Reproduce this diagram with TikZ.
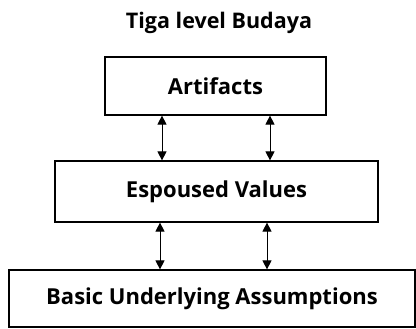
\documentclass[tikz,border=0pt]{standalone}
\usepackage{fontspec}
\setmainfont{Open Sans}
\usetikzlibrary{arrows.meta}
\begin{document}
\begin{tikzpicture}[x=1pt,y=-1pt,
  box/.style={draw, line width=1.2pt, rectangle, inner sep=0pt, font=\bfseries\fontsize{22}{26}\selectfont},
  link/.style={line width=0.9pt, {Triangle[width=9pt,length=9pt]}-{Triangle[width=9pt,length=9pt]}}]
\useasboundingbox (0,0) rectangle (416,329);
\node[font=\bfseries\fontsize{21.5}{25}\selectfont] (title) at (219,23) {Tiga level Budaya};
\node[box, minimum width=221pt, minimum height=58pt] (art) at (215.5,86) {Artifacts};
\node[box, minimum width=323pt, minimum height=61pt] (esp) at (216.5,191.5) {Espoused Values};
\node[box, minimum width=406pt, minimum height=57pt] (bua) at (212,298.5) {Basic Underlying Assumptions};
\coordinate (a1) at (162,0);
\coordinate (a2) at (270,0);
\coordinate (b1) at (160,0);
\coordinate (b2) at (267,0);
\draw[link] (art.south -| a1) -- (esp.north -| a1);
\draw[link] (art.south -| a2) -- (esp.north -| a2);
\draw[link] (esp.south -| b1) -- (bua.north -| b1);
\draw[link] (esp.south -| b2) -- (bua.north -| b2);
\end{tikzpicture}
\end{document}
